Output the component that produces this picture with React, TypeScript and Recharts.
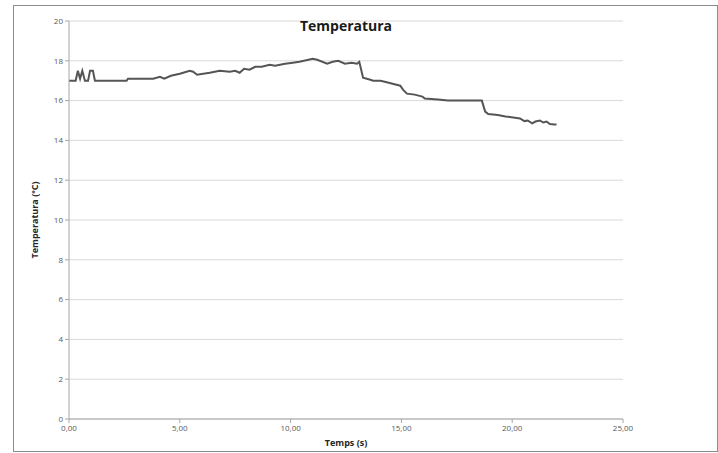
import { CartesianGrid, Line, LineChart, XAxis, YAxis } from "recharts";

// time in seconds
const temps_s = [
  0, 0.3, 0.4, 0.5, 0.6, 0.72, 0.86, 0.95, 1.08, 1.17, 2.6, 2.66, 3.8, 4.1, 4.3, 4.6, 5.0, 5.45,
  5.6, 5.78, 6.35, 6.8, 7.25, 7.5, 7.7, 7.9, 8.15, 8.4, 8.7, 9.05, 9.3, 9.75, 10.1, 10.4, 11.0,
  11.2, 11.65, 11.9, 12.15, 12.45, 12.75, 13.0, 13.1, 13.27, 13.6, 13.72, 14.05, 14.25, 14.6,
  14.95, 15.07, 15.25, 15.6, 15.95, 16.05, 16.65, 17.1, 18.63, 18.78, 18.92, 19.35, 19.7, 20.05,
  20.35, 20.55, 20.7, 20.9, 21.05, 21.25, 21.4, 21.55, 21.7, 21.9, 22.0,
];

// temperature in ºC
const temperatura = [
  17.0, 17.0, 17.5, 17.1, 17.5, 17.0, 17.0, 17.5, 17.5, 17.0, 17.0, 17.1, 17.1, 17.2, 17.1, 17.25,
  17.35, 17.5, 17.45, 17.3, 17.4, 17.5, 17.45, 17.5, 17.4, 17.6, 17.55, 17.7, 17.7, 17.8, 17.75,
  17.85, 17.9, 17.95, 18.1, 18.05, 17.85, 17.95, 18.0, 17.85, 17.9, 17.85, 17.95, 17.15, 17.05,
  17.0, 17.0, 16.95, 16.85, 16.75, 16.55, 16.35, 16.3, 16.2, 16.1, 16.05, 16.0, 16.0, 15.45,
  15.33, 15.28, 15.2, 15.15, 15.1, 14.97, 15.0, 14.86, 14.95, 15.0, 14.9, 14.95, 14.82, 14.8, 14.8,
];

const xTicks = [0, 5, 10, 15, 20, 25];
const yTicks = [0, 2, 4, 6, 8, 10, 12, 14, 16, 18, 20];

const data = temps_s.map((t, i) => ({ t, temp: temperatura[i] }));

const font = "'Open Sans', 'Liberation Sans', sans-serif";
const tickStyle = { fontSize: 8, fill: "#595959", fontFamily: font };

export default function App() {
  return (
    <div style={{ position: "fixed", left: 0, top: 0, width: 718, height: 453, background: "#fff" }}>
      <div
        style={{
          position: "absolute",
          left: 13,
          top: 5,
          width: 703,
          height: 445,
          border: "1px solid #8c8c8c",
        }}
      />
      <LineChart
        width={718}
        height={453}
        data={data}
        margin={{ top: 21, right: 95, bottom: 14, left: 29 }}
      >
        <CartesianGrid vertical={false} stroke="#d9d9d9" strokeWidth={1} />
        <XAxis
          dataKey="t"
          type="number"
          domain={[0, 25]}
          ticks={xTicks}
          height={20}
          tickSize={4}
          tick={tickStyle}
          stroke="#a6a6a6"
          tickFormatter={(v: number) => v.toFixed(2).replace(".", ",")}
          label={{
            value: "Temps (s)",
            position: "bottom",
            offset: 1,
            style: { fontSize: 9, fontWeight: 700, fill: "#262626", fontFamily: font },
          }}
        />
        <YAxis
          type="number"
          domain={[0, 20]}
          ticks={yTicks}
          width={40}
          tickSize={4}
          tick={tickStyle}
          stroke="#a6a6a6"
          label={{
            value: "Temperatura (ºC)",
            angle: -90,
            position: "insideLeft",
            offset: 6,
            style: { textAnchor: "middle", fontSize: 9, fontWeight: 700, fill: "#262626", fontFamily: font },
          }}
        />
        <Line
          dataKey="temp"
          type="linear"
          stroke="#555555"
          strokeWidth={2}
          dot={false}
          isAnimationActive={false}
        />
      </LineChart>
      <div
        style={{
          position: "absolute",
          left: 246,
          width: 200,
          top: 16,
          textAlign: "center",
          fontFamily: font,
          fontWeight: 700,
          fontSize: 14,
          color: "#1a1a1a",
        }}
      >
        Temperatura
      </div>
    </div>
  );
}
